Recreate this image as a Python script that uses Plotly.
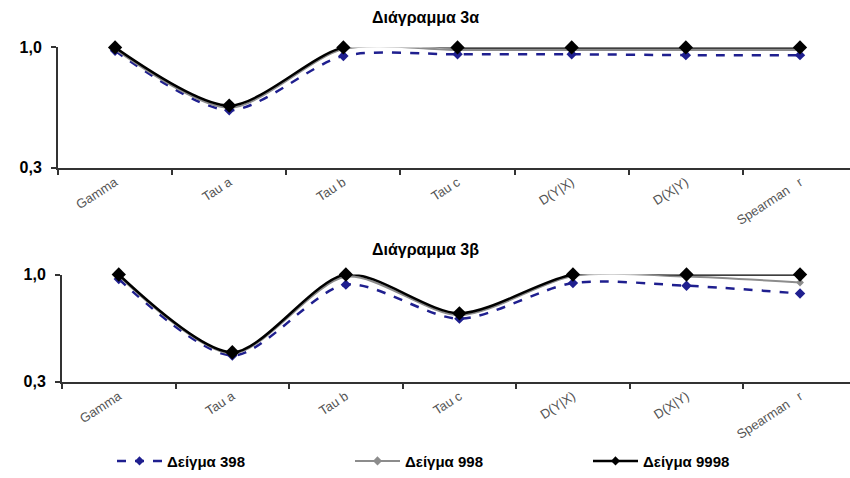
import plotly.graph_objects as go

categories = ["Gamma", "Tau a", "Tau b", "Tau c", "D(Y|X)", "D(X|Y)", "Spearman\u00a0\u00a0\u00a0r"]
series_names = ["Δείγμα 398", "Δείγμα 998", "Δείγμα 9998"]

# Διάγραμμα 3α
a_398 = [0.98, 0.635, 0.95, 0.96, 0.96, 0.955, 0.955]
a_998 = [0.99, 0.65, 0.99, 0.985, 0.985, 0.985, 0.985]
a_9998 = [1.0, 0.662, 1.0, 1.0, 1.0, 1.0, 1.0]

# Διάγραμμα 3β
b_398 = [0.97, 0.472, 0.934, 0.712, 0.944, 0.927, 0.876]
b_998 = [0.99, 0.485, 0.985, 0.735, 0.99, 0.987, 0.948]
b_9998 = [1.0, 0.493, 1.0, 0.747, 1.0, 1.0, 1.0]

titles = ["Διάγραμμα 3α", "Διάγραμμα 3β"]
ytick_vals = [0.3, 1.0]
ytick_text = ["0,3", "1,0"]

W, H = 850, 478
FONT = "Liberation Sans, Arial, sans-serif"

styles = [
    dict(color="#1f1f8f", width=2.5, dash="dash", msize=8),
    dict(color="#8c8c8c", width=2, dash="solid", msize=6),
    dict(color="#000000", width=2.5, dash="solid", msize=11),
]

fig = go.Figure()

panels = [
    dict(data=[a_398, a_998, a_9998], xa="x", ya="y"),
    dict(data=[b_398, b_998, b_9998], xa="x2", ya="y2"),
]

for pi, p in enumerate(panels):
    for si, vals in enumerate(p["data"]):
        st = styles[si]
        fig.add_trace(go.Scatter(
            x=categories, y=vals, xaxis=p["xa"], yaxis=p["ya"],
            mode="lines+markers", name=series_names[si],
            line=dict(color=st["color"], width=st["width"], dash=st["dash"], shape="spline", smoothing=0.8),
            marker=dict(symbol="diamond", size=st["msize"], color=st["color"]),
            cliponaxis=False, showlegend=False,
        ))

# legend entries (small markers as in the original legend)
for si, name in enumerate(series_names):
    st = styles[si]
    fig.add_trace(go.Scatter(
        x=[None], y=[None], xaxis="x2", yaxis="y2", mode="lines+markers", name=name,
        line=dict(color=st["color"], width=2.5 if si != 1 else 2, dash=st["dash"]),
        marker=dict(symbol="diamond", size=7, color=st["color"]),
        showlegend=True, legendrank=si,
    ))

axis_common = dict(showline=True, linecolor="#333333", linewidth=2, showgrid=False, zeroline=False,
                   ticks="outside", ticklen=5, tickwidth=2, tickcolor="#333333", automargin=False)
xfont = dict(size=13, color="#555555")
yfont = dict(size=16, color="#000000", weight="bold")

fig.update_layout(
    width=W, height=H,
    margin=dict(l=0, r=0, t=0, b=0),
    paper_bgcolor="white", plot_bgcolor="white",
    font=dict(family=FONT, color="#000000"),
    xaxis=dict(domain=[58 / W, 1], range=[-0.5, 6.438], type="category", tickson="boundaries",
               tickangle=-33, tickfont=xfont, anchor="y", **axis_common),
    yaxis=dict(domain=[1 - 170 / H, 1 - 48 / H], range=[0.3, 1.0], tickvals=ytick_vals, ticktext=ytick_text,
               tickfont=yfont, anchor="x", ticklabelstandoff=6, **axis_common),
    xaxis2=dict(domain=[62 / W, 1], range=[-0.5, 6.44], type="category", tickson="boundaries",
                tickangle=-33, tickfont=xfont, anchor="y2", **axis_common),
    yaxis2=dict(domain=[1 - 386.7 / H, 1 - 278 / H], range=[0.3, 1.0], tickvals=ytick_vals, ticktext=ytick_text,
                tickfont=yfont, anchor="x2", ticklabelstandoff=6, **axis_common),
    legend=dict(orientation="h", x=112 / W, y=1 - 467 / H, xanchor="left", yanchor="middle",
                font=dict(size=15, color="#000000", weight="bold"), entrywidth=178, entrywidthmode="pixels",
                itemwidth=45, traceorder="normal"),
    annotations=[
        dict(text=titles[0], x=0.5, y=1 - 18 / H, xref="paper", yref="paper", showarrow=False,
             font=dict(size=16, color="#000000", weight="bold"), xanchor="center", yanchor="middle"),
        dict(text=titles[1], x=0.5, y=1 - 253 / H, xref="paper", yref="paper", showarrow=False,
             font=dict(size=16, color="#000000", weight="bold"), xanchor="center", yanchor="middle"),
    ],
)

fig.write_html("out.html")
